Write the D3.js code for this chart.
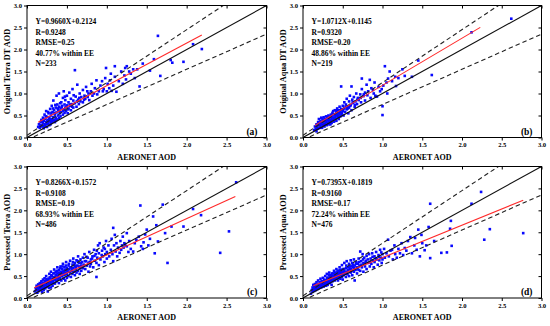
<!DOCTYPE html>
<html>
<head>
<meta charset="utf-8">
<script src="https://cdn.jsdelivr.net/npm/d3@7"></script>
<style>
  body { margin: 0; background: #fff; }
  svg text { font-family: "Liberation Serif", "Times New Roman", serif; font-weight: bold; fill: #000; }
</style>
</head>
<body>
<div id="chart"></div>
<script>
// ---- data ----
const tickValues = [0, 0.5, 1.0, 1.5, 2.0, 2.5, 3.0];
const panelTags = ["(a)", "(b)", "(c)", "(d)"];
const yTitles = ["Original Terra DT AOD", "Original Aqua DT AOD", "Processed Terra  AOD", "Processed Aqua AOD"];
const statsA = ["Y=0.9660X+0.2124", "R=0.9248", "RMSE=0.25", "40.77% within EE", "N=233"];
const statsB = ["Y=1.0712X+0.1145", "R=0.9320", "RMSE=0.20", "48.86% within EE", "N=219"];
const statsC = ["Y=0.8266X+0.1572", "R=0.9108", "RMSE=0.19", "68.93% within EE", "N=486"];
const statsD = ["Y=0.7395X+0.1819", "R=0.9160", "RMSE=0.17", "72.24% within EE", "N=476"];
// regression: slope, intercept, x start, x end
const fitA = [0.9660, 0.2124, 0.14, 2.19];
const fitB = [1.0712, 0.1145, 0.15, 2.23];
const fitC = [0.8266, 0.1572, 0.09, 2.61];
const fitD = [0.7395, 0.1819, 0.13, 2.77];

const pointsA = [[0.14,0.24],[0.15,0.30],[0.16,0.22],[0.17,0.35],[0.18,0.28],[0.18,0.40],[0.19,0.25],[0.20,0.33],[0.20,0.45],[0.21,0.21],[0.21,0.38],[0.22,0.30],[0.22,0.52],[0.23,0.27],[0.23,0.42],[0.24,0.35],[0.24,0.60],[0.25,0.24],[0.25,0.47],[0.26,0.31],[0.26,0.40],[0.27,0.55],[0.27,0.36],[0.28,0.28],[0.28,0.45],[0.29,0.65],[0.29,0.38],[0.30,0.33],[0.30,0.50],[0.31,0.42],[0.31,0.72],[0.32,0.36],[0.32,0.58],[0.33,0.46],[0.33,0.84],[0.34,0.40],[0.34,0.62],[0.35,0.52],[0.35,0.35],[0.36,0.68],[0.36,0.45],[0.37,0.57],[0.37,0.95],[0.38,0.41],[0.38,0.75],[0.39,0.50],[0.39,0.62],[0.40,0.44],[0.40,0.70],[0.40,1.00],[0.41,0.55],[0.42,0.66],[0.42,0.48],[0.43,0.80],[0.43,0.58],[0.44,0.72],[0.45,0.52],[0.45,0.90],[0.46,0.64],[0.46,1.05],[0.47,0.75],[0.47,0.56],[0.48,0.68],[0.48,0.85],[0.49,0.60],[0.50,0.73],[0.50,0.95],[0.51,0.55],[0.52,0.80],[0.52,0.66],[0.53,1.02],[0.54,0.72],[0.55,0.62],[0.55,0.88],[0.56,0.76],[0.57,1.10],[0.58,0.68],[0.58,0.84],[0.60,1.53],[0.60,0.78],[0.61,0.93],[0.62,0.70],[0.63,1.20],[0.64,0.86],[0.65,0.76],[0.66,1.00],[0.67,0.82],[0.68,0.92],[0.70,1.08],[0.70,0.80],[0.72,0.95],[0.73,0.88],[0.74,1.15],[0.76,0.92],[0.77,1.00],[0.78,0.85],[0.80,1.05],[0.81,1.22],[0.82,0.95],[0.84,1.00],[0.85,1.12],[0.87,1.30],[0.88,0.98],[0.90,1.05],[0.92,1.18],[0.94,1.28],[0.95,1.05],[0.96,1.10],[0.98,1.35],[0.99,1.58],[1.00,1.05],[1.01,1.22],[1.03,1.12],[1.04,1.30],[1.05,1.45],[1.06,1.06],[1.08,1.18],[1.10,1.62],[1.10,1.38],[1.12,1.04],[1.15,1.28],[1.18,1.50],[1.20,1.22],[1.22,1.41],[1.23,1.58],[1.24,1.32],[1.25,1.62],[1.28,1.50],[1.30,1.45],[1.33,1.55],[1.35,1.35],[1.38,1.55],[1.41,1.16],[1.45,1.68],[1.54,1.52],[1.59,1.78],[1.64,2.31],[1.67,1.40],[1.80,1.76],[1.82,1.70],[1.96,1.72],[2.08,2.12],[2.19,2.01],
  [0.165,0.27],[0.195,0.36],[0.215,0.26],[0.235,0.48],[0.245,0.31],[0.255,0.37],[0.265,0.58],[0.285,0.41],[0.295,0.30],[0.305,0.56],[0.315,0.38],[0.325,0.66],[0.345,0.55],[0.355,0.74],[0.365,0.39],[0.385,0.66],[0.405,0.60],[0.415,0.78],[0.435,0.69],[0.455,0.61],[0.475,0.93],[0.495,0.70],[0.515,0.64],[0.535,0.75],[0.565,0.70],[0.585,0.96],[0.625,0.82],[0.655,0.90],[0.715,0.86],[0.755,1.05]];

const pointsB = [[0.14,0.17],[0.15,0.25],[0.16,0.20],[0.17,0.30],[0.17,0.14],[0.18,0.24],[0.19,0.35],[0.19,0.20],[0.20,0.28],[0.20,0.42],[0.21,0.22],[0.21,0.33],[0.22,0.26],[0.22,0.38],[0.23,0.30],[0.23,0.45],[0.24,0.22],[0.24,0.35],[0.25,0.28],[0.25,0.40],[0.26,0.32],[0.26,0.46],[0.27,0.25],[0.27,0.37],[0.28,0.42],[0.28,0.30],[0.29,0.48],[0.29,0.35],[0.30,0.28],[0.30,0.40],[0.31,0.44],[0.31,0.33],[0.32,0.50],[0.32,0.38],[0.33,0.42],[0.33,0.30],[0.34,0.47],[0.34,0.36],[0.35,0.52],[0.35,0.40],[0.36,0.44],[0.36,0.33],[0.37,0.56],[0.37,0.48],[0.38,0.40],[0.38,0.60],[0.39,0.45],[0.39,0.36],[0.40,0.52],[0.40,0.62],[0.41,0.42],[0.41,0.48],[0.42,0.58],[0.42,0.38],[0.43,0.52],[0.43,0.66],[0.44,0.46],[0.44,0.56],[0.45,0.62],[0.45,0.42],[0.46,0.54],[0.46,0.70],[0.47,0.60],[0.47,0.48],[0.48,0.65],[0.48,1.16],[0.49,0.56],[0.50,0.72],[0.50,0.60],[0.51,0.50],[0.52,0.66],[0.52,0.80],[0.53,0.58],[0.54,0.75],[0.55,0.64],[0.55,0.88],[0.56,0.70],[0.57,0.55],[0.58,0.82],[0.58,0.68],[0.59,0.95],[0.60,0.74],[0.61,1.16],[0.61,0.62],[0.62,0.86],[0.63,0.78],[0.64,0.92],[0.65,0.70],[0.66,0.82],[0.67,1.00],[0.68,0.76],[0.69,0.90],[0.70,0.85],[0.72,0.98],[0.73,0.80],[0.74,1.34],[0.74,1.10],[0.76,0.94],[0.78,1.02],[0.78,0.84],[0.80,1.20],[0.81,0.96],[0.82,1.05],[0.84,1.31],[0.85,0.90],[0.86,1.12],[0.88,1.08],[0.89,1.00],[0.90,1.25],[0.91,0.95],[0.93,0.93],[0.95,1.15],[0.97,1.05],[0.99,1.10],[1.00,0.71],[1.00,0.51],[1.01,1.18],[1.03,1.62],[1.05,1.25],[1.06,1.00],[1.07,1.34],[1.09,1.50],[1.12,1.28],[1.16,1.38],[1.17,1.17],[1.20,1.35],[1.25,1.55],[1.28,1.40],[1.37,1.38],[1.45,1.75],[1.62,1.42],[2.12,2.39],[2.62,2.70],
  [0.175,0.27],[0.205,0.31],[0.225,0.34],[0.245,0.43],[0.265,0.29],[0.285,0.38],[0.305,0.47],[0.325,0.41],[0.345,0.30],[0.365,0.50],[0.385,0.53],[0.405,0.45],[0.425,0.62],[0.445,0.50],[0.465,0.58],[0.485,0.52],[0.505,0.64],[0.535,0.70],[0.565,0.66],[0.595,0.72],[0.625,0.80],[0.655,0.74],[0.685,0.86],[0.725,0.90],[0.765,0.98]];

const pointsC = [[0.10,0.15],[0.11,0.22],[0.12,0.18],[0.12,0.28],[0.13,0.12],[0.13,0.24],[0.14,0.20],[0.14,0.31],[0.15,0.16],[0.15,0.26],[0.16,0.22],[0.16,0.34],[0.17,0.18],[0.17,0.28],[0.18,0.24],[0.18,0.38],[0.19,0.14],[0.19,0.30],[0.20,0.20],[0.20,0.26],[0.20,0.42],[0.21,0.32],[0.21,0.18],[0.22,0.28],[0.22,0.45],[0.23,0.22],[0.23,0.36],[0.24,0.30],[0.24,0.50],[0.25,0.26],[0.25,0.40],[0.26,0.34],[0.26,0.15],[0.27,0.44],[0.27,0.29],[0.28,0.38],[0.28,0.55],[0.29,0.32],[0.29,0.46],[0.30,0.24],[0.30,0.40],[0.30,0.60],[0.31,0.35],[0.31,0.50],[0.32,0.44],[0.32,0.28],[0.33,0.56],[0.33,0.38],[0.34,0.48],[0.34,0.65],[0.35,0.33],[0.35,0.42],[0.36,0.52],[0.36,0.60],[0.37,0.38],[0.37,0.46],[0.38,0.56],[0.38,0.70],[0.39,0.42],[0.39,0.50],[0.40,0.34],[0.40,0.58],[0.40,0.64],[0.41,0.46],[0.42,0.54],[0.42,0.72],[0.43,0.40],[0.43,0.60],[0.44,0.50],[0.44,0.66],[0.45,0.56],[0.45,0.78],[0.46,0.44],[0.46,0.62],[0.47,0.52],[0.47,0.70],[0.48,0.58],[0.48,0.40],[0.49,0.64],[0.49,0.82],[0.50,0.54],[0.50,0.68],[0.50,0.46],[0.51,0.60],[0.52,0.74],[0.52,0.50],[0.53,0.66],[0.54,0.58],[0.54,0.85],[0.55,0.70],[0.55,0.48],[0.56,0.62],[0.57,0.76],[0.57,0.55],[0.58,0.68],[0.58,0.90],[0.59,0.60],[0.60,0.72],[0.60,0.52],[0.60,0.80],[0.61,0.65],[0.62,0.86],[0.62,0.58],[0.63,0.74],[0.64,0.95],[0.64,0.62],[0.65,0.80],[0.66,0.68],[0.66,0.55],[0.67,0.88],[0.68,0.74],[0.68,0.62],[0.69,0.82],[0.70,0.92],[0.70,0.68],[0.71,0.76],[0.72,1.00],[0.73,0.66],[0.74,0.84],[0.75,0.74],[0.76,0.92],[0.77,0.60],[0.77,0.80],[0.78,1.05],[0.79,0.72],[0.80,0.88],[0.80,0.78],[0.82,0.95],[0.83,0.70],[0.84,1.10],[0.85,0.85],[0.86,1.00],[0.87,0.48],[0.87,0.80],[0.88,0.92],[0.89,1.20],[0.90,0.75],[0.90,1.02],[0.91,1.25],[0.92,0.88],[0.94,1.08],[0.95,0.95],[0.96,1.15],[0.97,0.82],[0.98,1.00],[0.99,1.30],[1.00,1.05],[1.00,0.90],[1.02,1.20],[1.03,0.95],[1.05,1.10],[1.06,1.35],[1.07,1.00],[1.08,1.60],[1.08,0.84],[1.09,1.20],[1.10,1.44],[1.11,1.06],[1.12,1.25],[1.13,0.95],[1.14,1.15],[1.16,1.03],[1.17,1.30],[1.18,1.10],[1.19,1.20],[1.20,1.40],[1.21,1.15],[1.22,1.25],[1.23,1.22],[1.25,1.48],[1.25,1.18],[1.27,1.05],[1.28,1.30],[1.30,1.12],[1.33,1.06],[1.35,1.25],[1.37,1.33],[1.40,1.40],[1.42,2.11],[1.43,1.18],[1.45,1.12],[1.46,1.27],[1.48,1.45],[1.50,1.56],[1.52,1.20],[1.54,1.35],[1.58,1.86],[1.60,1.02],[1.62,1.66],[1.64,1.29],[1.70,2.13],[1.73,1.48],[1.76,0.80],[1.81,1.63],[1.96,1.63],[2.08,2.03],[2.18,1.89],[2.42,1.03],[2.53,1.52],[2.62,2.64],
  [0.125,0.21],[0.145,0.25],[0.165,0.30],[0.175,0.22],[0.185,0.33],[0.205,0.35],[0.215,0.24],[0.225,0.39],[0.235,0.31],[0.245,0.43],[0.255,0.33],[0.265,0.38],[0.275,0.23],[0.285,0.47],[0.295,0.37],[0.305,0.52],[0.315,0.42],[0.325,0.34],[0.335,0.47],[0.345,0.57],[0.355,0.45],[0.365,0.40],[0.375,0.62],[0.385,0.48],[0.395,0.55],[0.405,0.45],[0.415,0.68],[0.425,0.58],[0.435,0.50],[0.445,0.72],[0.455,0.60],[0.465,0.54],[0.475,0.64],[0.485,0.74],[0.495,0.57],[0.505,0.63],[0.525,0.78],[0.535,0.60],[0.545,0.70],[0.565,0.66],[0.575,0.82],[0.595,0.75],[0.615,0.70],[0.635,0.84],[0.655,0.72],[0.675,0.80],[0.695,0.70],[0.725,0.84],[0.745,0.94],[0.785,0.82],[0.815,0.90],[0.845,0.96],[0.875,1.08],[0.935,0.98],[0.975,1.12]];

const pointsD = [[0.10,0.10],[0.11,0.18],[0.12,0.24],[0.12,0.14],[0.13,0.20],[0.13,0.30],[0.14,0.26],[0.14,0.16],[0.15,0.22],[0.15,0.32],[0.16,0.28],[0.16,0.18],[0.17,0.24],[0.17,0.36],[0.18,0.30],[0.18,0.20],[0.19,0.26],[0.19,0.40],[0.20,0.32],[0.20,0.22],[0.20,0.28],[0.21,0.36],[0.21,0.26],[0.22,0.30],[0.22,0.44],[0.23,0.24],[0.23,0.34],[0.24,0.38],[0.24,0.28],[0.25,0.32],[0.25,0.46],[0.26,0.36],[0.26,0.26],[0.27,0.40],[0.27,0.30],[0.28,0.34],[0.28,0.50],[0.29,0.38],[0.29,0.28],[0.30,0.42],[0.30,0.34],[0.30,0.55],[0.31,0.38],[0.31,0.30],[0.32,0.46],[0.32,0.36],[0.33,0.42],[0.33,0.58],[0.34,0.34],[0.34,0.48],[0.35,0.40],[0.35,0.52],[0.36,0.44],[0.36,0.30],[0.37,0.50],[0.37,0.38],[0.38,0.56],[0.38,0.44],[0.39,0.48],[0.39,0.62],[0.40,0.40],[0.40,0.52],[0.40,0.46],[0.41,0.56],[0.42,0.44],[0.42,0.66],[0.43,0.50],[0.43,0.58],[0.44,0.40],[0.44,0.54],[0.45,0.62],[0.45,0.48],[0.46,0.70],[0.46,0.52],[0.47,0.58],[0.47,0.44],[0.48,0.64],[0.48,0.54],[0.49,0.48],[0.49,0.75],[0.50,0.58],[0.50,0.66],[0.50,0.42],[0.51,0.52],[0.52,0.62],[0.52,0.80],[0.53,0.56],[0.54,0.68],[0.54,0.48],[0.55,0.60],[0.55,0.84],[0.56,0.54],[0.57,0.70],[0.57,0.62],[0.58,0.78],[0.58,0.50],[0.59,0.66],[0.60,0.86],[0.60,0.58],[0.60,0.72],[0.61,0.62],[0.62,0.80],[0.62,0.52],[0.63,0.70],[0.64,0.60],[0.64,0.88],[0.65,0.40],[0.65,0.74],[0.66,0.64],[0.67,0.82],[0.68,0.56],[0.68,0.70],[0.69,0.78],[0.70,0.90],[0.70,0.64],[0.71,0.74],[0.72,1.06],[0.72,0.62],[0.73,0.84],[0.74,0.70],[0.75,1.00],[0.76,0.80],[0.76,0.60],[0.77,0.92],[0.78,0.72],[0.79,0.85],[0.80,0.66],[0.80,0.96],[0.82,0.80],[0.83,1.00],[0.84,0.72],[0.85,0.90],[0.86,0.78],[0.87,1.02],[0.88,0.85],[0.89,0.70],[0.90,0.95],[0.90,0.82],[0.92,1.05],[0.93,0.88],[0.94,0.76],[0.95,0.98],[0.96,0.86],[0.97,1.10],[0.98,0.92],[0.99,0.80],[1.00,1.00],[1.00,0.88],[1.02,1.12],[1.03,0.92],[1.05,1.02],[1.07,1.33],[1.08,0.95],[1.10,1.08],[1.12,1.10],[1.13,0.88],[1.15,1.20],[1.16,1.00],[1.18,0.92],[1.20,1.12],[1.22,1.02],[1.24,1.25],[1.26,0.98],[1.28,1.14],[1.30,1.08],[1.32,1.30],[1.35,1.39],[1.37,1.02],[1.40,1.20],[1.41,1.37],[1.43,1.10],[1.45,1.56],[1.47,0.95],[1.49,1.44],[1.50,1.25],[1.53,1.09],[1.55,1.20],[1.58,1.62],[1.60,2.15],[1.60,0.91],[1.65,1.30],[1.74,1.03],[1.81,1.04],[1.85,1.58],[1.86,1.76],[1.87,1.19],[2.12,2.15],[2.24,2.42],[2.28,1.33],[2.35,1.57],[2.77,1.48],
  [0.125,0.19],[0.145,0.22],[0.165,0.25],[0.175,0.30],[0.185,0.24],[0.205,0.27],[0.215,0.33],[0.225,0.26],[0.235,0.38],[0.245,0.33],[0.255,0.28],[0.265,0.42],[0.275,0.35],[0.285,0.40],[0.295,0.33],[0.305,0.46],[0.315,0.40],[0.325,0.52],[0.335,0.37],[0.345,0.44],[0.355,0.48],[0.365,0.56],[0.375,0.42],[0.385,0.50],[0.395,0.44],[0.405,0.58],[0.415,0.48],[0.425,0.54],[0.435,0.62],[0.445,0.47],[0.455,0.57],[0.465,0.64],[0.475,0.52],[0.485,0.60],[0.495,0.54],[0.515,0.66],[0.535,0.58],[0.545,0.74],[0.565,0.64],[0.585,0.72],[0.605,0.66],[0.625,0.76],[0.645,0.68],[0.665,0.78],[0.685,0.66],[0.705,0.82],[0.735,0.76],[0.755,0.88],[0.785,0.80],[0.815,0.88],[0.845,0.82],[0.875,0.94],[0.915,0.90],[0.955,0.94],[0.985,1.04]];

// ---- layout ----
const W = 550, H = 326;
const svg = d3.select("#chart").append("svg")
    .attr("width", W)
    .attr("height", H);

const panels = [
    { left: 27, top: 5.5, right: 266.5, bottom: 137.5, pts: pointsA, stats: statsA, fit: fitA },
    { left: 303, top: 5.5, right: 541.5, bottom: 137.5, pts: pointsB, stats: statsB, fit: fitB },
    { left: 27, top: 166.5, right: 266.5, bottom: 298, pts: pointsC, stats: statsC, fit: fitC },
    { left: 303, top: 166.5, right: 541.5, bottom: 298, pts: pointsD, stats: statsD, fit: fitD },
];

panels.forEach((p, i) => drawPanel(p, i));

function drawPanel(p, i) {
    const x = d3.scaleLinear().domain([0, 3]).range([p.left, p.right]);
    const y = d3.scaleLinear().domain([0, 3]).range([p.bottom, p.top]);
    const g = svg.append("g");

    const clipId = "clip" + i;
    svg.append("clipPath").attr("id", clipId)
        .append("rect")
        .attr("x", p.left).attr("y", p.top)
        .attr("width", p.right - p.left).attr("height", p.bottom - p.top);

    const plot = g.append("g").attr("clip-path", "url(#" + clipId + ")");
    const line = d3.line().x(d => x(d[0])).y(d => y(d[1]));

    // scatter points
    plot.selectAll("rect.pt")
        .data(p.pts)
        .enter()
        .append("rect")
        .attr("class", "pt")
        .attr("x", d => x(d[0]) - 1.3)
        .attr("y", d => y(d[1]) - 1.3)
        .attr("width", 2.6)
        .attr("height", 2.6)
        .attr("fill", "#0808ff");

    // expected error envelope
    const xs = [0, 3];
    plot.append("path")
        .datum(xs.map(v => [v, 1.2 * v + 0.05]))
        .attr("d", line)
        .attr("fill", "none").attr("stroke", "#222").attr("stroke-width", 1.1)
        .attr("stroke-dasharray", "4.5,3");
    plot.append("path")
        .datum(xs.map(v => [v, 0.8 * v - 0.05]))
        .attr("d", line)
        .attr("fill", "none").attr("stroke", "#222").attr("stroke-width", 1.1)
        .attr("stroke-dasharray", "4.5,3");

    // 1:1 line
    plot.append("path")
        .datum([[0, 0], [3, 3]])
        .attr("d", line)
        .attr("fill", "none").attr("stroke", "#111").attr("stroke-width", 1.1);

    // regression
    const [k, b, x0, x1] = p.fit;
    plot.append("path")
        .datum([[x0, k * x0 + b], [x1, k * x1 + b]])
        .attr("d", line)
        .attr("fill", "none").attr("stroke", "#ff2a2a").attr("stroke-width", 1.1);

    // axes
    const fmt = d3.format(".1f");
    const styleAxis = sel => {
        sel.select(".domain").remove();
        sel.selectAll("line").attr("stroke", "#000");
        sel.selectAll("text")
            .style("font-family", '"Liberation Serif", "Times New Roman", serif')
            .style("font-weight", "bold")
            .style("font-size", "6.6px")
            .attr("fill", "#000");
    };
    g.append("g").attr("transform", "translate(0," + p.bottom + ")")
        .call(d3.axisBottom(x).tickValues(tickValues).tickFormat(fmt).tickSize(3).tickPadding(2))
        .call(styleAxis);
    g.append("g").attr("transform", "translate(" + p.left + ",0)")
        .call(d3.axisLeft(y).tickValues(tickValues).tickFormat(fmt).tickSize(3).tickPadding(2))
        .call(styleAxis);
    g.append("g").attr("transform", "translate(0," + p.top + ")")
        .call(d3.axisBottom(x).tickValues(tickValues).tickFormat("").tickSize(3))
        .call(styleAxis);
    g.append("g").attr("transform", "translate(" + p.right + ",0)")
        .call(d3.axisLeft(y).tickValues(tickValues).tickFormat("").tickSize(3))
        .call(styleAxis);

    // frame
    g.append("rect")
        .attr("x", p.left).attr("y", p.top)
        .attr("width", p.right - p.left).attr("height", p.bottom - p.top)
        .attr("fill", "none").attr("stroke", "#000").attr("stroke-width", 1);

    // statistics text
    g.selectAll("text.stat")
        .data(p.stats)
        .enter()
        .append("text")
        .attr("class", "stat")
        .attr("x", p.left + 8.5)
        .attr("y", (d, j) => p.top + 18.5 + j * 10.5)
        .style("font-size", "7.5px")
        .text(d => d);

    // panel tag
    g.append("text")
        .attr("x", p.right - 9)
        .attr("y", p.bottom - 3)
        .attr("text-anchor", "end")
        .style("font-size", "9.5px")
        .text(panelTags[i]);

    // axis titles
    g.append("text")
        .attr("x", (p.left + p.right) / 2)
        .attr("y", p.bottom + 22)
        .attr("text-anchor", "middle")
        .style("font-size", "8px")
        .text("AERONET AOD");
    g.append("text")
        .attr("transform", "translate(" + (p.left - 17) + "," + ((p.top + p.bottom) / 2) + ") rotate(-90)")
        .attr("text-anchor", "middle")
        .style("font-size", "8.3px")
        .text(yTitles[i]);
}
</script>
</body>
</html>
